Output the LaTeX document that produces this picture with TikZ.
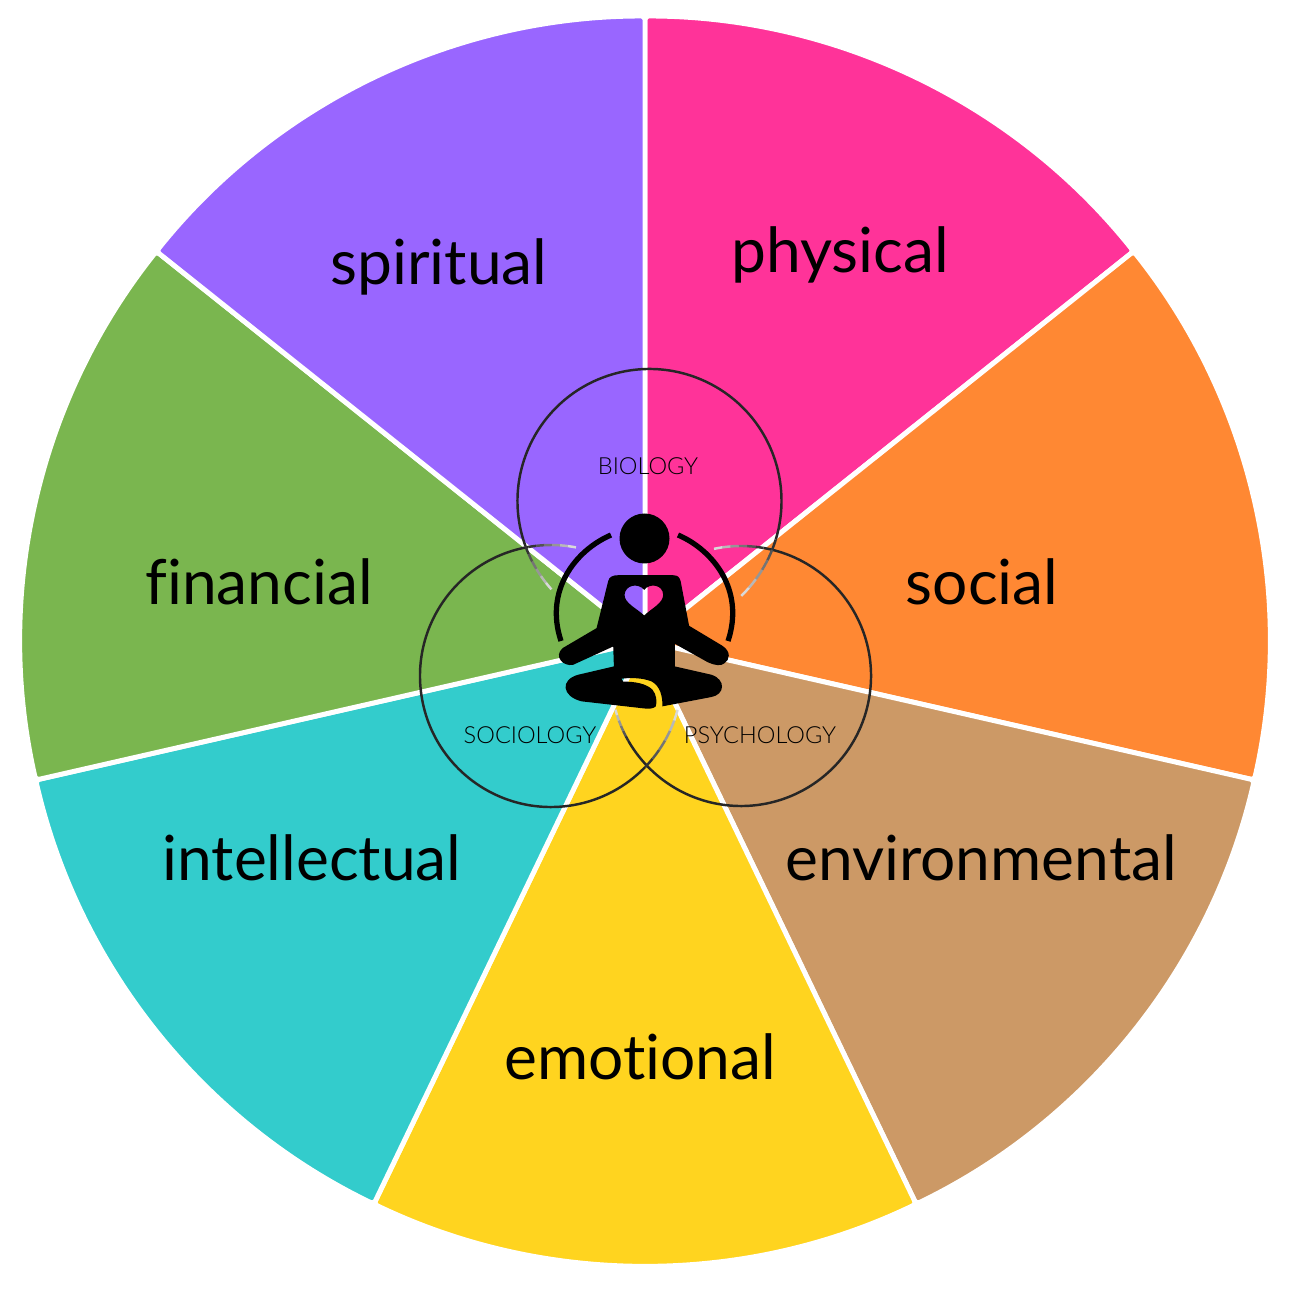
\documentclass[tikz,border=0pt]{standalone}
\usepackage{fontspec}
\setmainfont{Lato}[Ligatures=CommonOff]
\newfontfamily\thinfont{Lato Light}

\tikzset{
  wedge/.style={draw=white, line width=1.4pt, line join=round, rounded corners=1pt},
  area/.style={anchor=base, font=\fontsize{17.7}{20}\selectfont, text=black},
  field/.style={anchor=base, font=\thinfont\fontsize{6.7}{7}\selectfont, text=black},
  venn/.style={line width=0.7pt}
}

\begin{document}
\begin{tikzpicture}[x=0.01cm, y=0.01cm]

\useasboundingbox (0,-1289) rectangle (1289,0);

% the wheel
\foreach \col [count=\i] in {
  {rgb,255:red,255;green,51;blue,153},
  {rgb,255:red,255;green,136;blue,51},
  {rgb,255:red,204;green,153;blue,102},
  {rgb,255:red,255;green,212;blue,31},
  {rgb,255:red,51;green,204;blue,204},
  {rgb,255:red,122;green,182;blue,79},
  {rgb,255:red,153;green,102;blue,255}}
{
  \pgfmathsetmacro{\a}{90-(\i-1)*360/7}
  \pgfmathsetmacro{\b}{\a-360/7}
  \filldraw[wedge, fill={\col}] (645,-641) -- ++(\a:625) arc[start angle=\a, end angle=\b, radius=625] -- cycle;
}

\node[area] (physical) at (840,-273) {physical};
\node[area] (social) at (982,-604) {social};
\node[area] (environmental) at (981,-880) {environmental};
\node[area] (emotional) at (640,-1079) {emotional};
\node[area] (intellectual) at (312,-880) {intellectual};
\node[area] (financial) at (259,-604) {financial};
\node[area] (spiritual) at (439,-285) {spiritual};

\node[field] (biology) at (648,-475) {BIOLOGY};
\node[field] (sociology) at (530,-743) {SOCIOLOGY};
\node[field] (psychology) at (760,-743) {PSYCHOLOGY};

% the three circles, open round the figure
\draw[venn, draw=black!85] (649.5,-501) ++(200:132) arc[start angle=200, end angle=-17, radius=132];
\draw[venn, draw=black!85] (551,-676) ++(100:131) arc[start angle=100, end angle=316, radius=131];
\draw[venn, draw=black!85] (741,-676) ++(80:130) arc[start angle=80, end angle=-150, radius=130];

% their ends fade out
\foreach \cx/\cy/\r/\s/\e in {
  649.5/-501/132/200/222, 649.5/-501/132/-17/-46,
  551/-676/131/100/79, 551/-676/131/316/345,
  741/-676/130/80/102, 741/-676/130/-150/-165}
  \foreach \k in {0,...,5}
  {
    \pgfmathsetmacro{\g}{80-\k*13}
    \pgfmathsetmacro{\p}{\s+(\e-\s)*\k/6}
    \pgfmathsetmacro{\q}{\s+(\e-\s)*(\k+1)/6}
    \draw[venn, draw=black!\g] (\cx,\cy) ++(\p:\r) arc[start angle=\p, end angle=\q, radius=\r];
  }

% the figure
\fill[black] (644.5,-538.5) circle (25);
\draw[black, line width=1.5pt] (678,-535) .. controls (713,-550) and (745,-590) .. (728,-641);
\draw[black, line width=1.5pt] (611,-535) .. controls (576,-550) and (544,-590) .. (561,-641);

\begin{scope}[shift={(540,-500)}, x=0.00333cm, y=-0.00333cm]
\fill[black, even odd rule]
  (235,226) -- (400,226) .. controls (415,226) and (420,233) .. (423,246)
  -- (448,378) -- (548,438) .. controls (575,456) and (570,480) .. (555,490)
  .. controls (545,500) and (525,497) .. (505,488) -- (405,432) -- (405,500)
  -- (515,525) .. controls (560,540) and (555,585) .. (515,592)
  -- (368,620) .. controls (368,590) and (362,560) .. (335,545)
  .. controls (310,535) and (275,533) .. (245,537) -- (250,546)
  .. controls (285,545) and (320,552) .. (338,570)
  .. controls (350,585) and (352,605) .. (348,620)
  .. controls (340,628) and (325,628) .. (310,626)
  -- (125,605) .. controls (65,590) and (60,540) .. (115,525)
  -- (222,500) -- (220,440) -- (100,495)
  .. controls (70,502) and (40,470) .. (68,445)
  -- (170,385) -- (205,243) .. controls (208,230) and (220,226) .. (235,226) -- cycle
  (313,347) .. controls (290,325) and (254,310) .. (254,285)
  .. controls (256,255) and (295,248) .. (313,270)
  .. controls (330,248) and (370,255) .. (370,285)
  .. controls (370,310) and (336,325) .. (313,347) -- cycle;
\end{scope}

\end{tikzpicture}
\end{document}
